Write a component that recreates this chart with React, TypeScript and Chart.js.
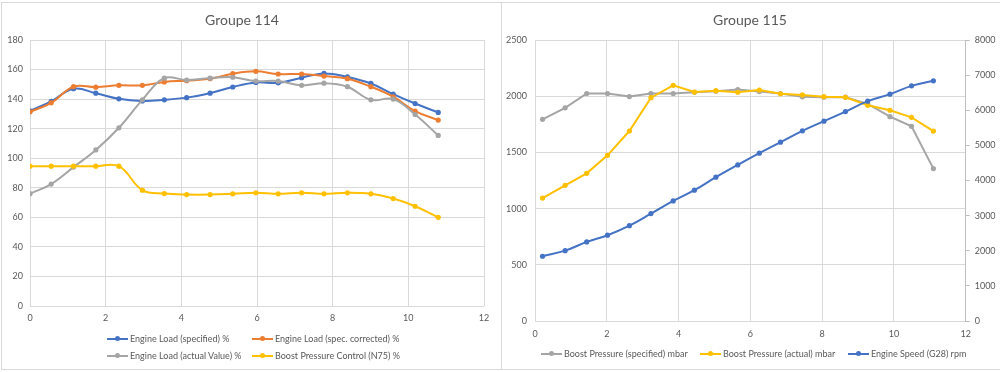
import React, { useEffect, useRef } from "react";
import { Chart, registerables } from "chart.js";

Chart.register(...registerables);

const FONT = "Lato, 'Liberation Sans', sans-serif";
const TEXT = "#595959";
const GRID = "#d9d9d9";
const BLUE = "#4472C4";
const ORANGE = "#ED7D31";
const GRAY = "#A5A5A5";
const YELLOW = "#FFC000";

// ---- Groupe 114 ----
const title114 = "Groupe 114";
const x114 = [0, 0.56, 1.15, 1.74, 2.35, 2.97, 3.55, 4.14, 4.76, 5.36, 5.97, 6.56, 7.18, 7.77, 8.39, 9.01, 9.6, 10.18, 10.79];
const loadSpecified = [132, 138.5, 147, 144, 140.2, 138.8, 139.5, 141, 144, 148.2, 151.3, 151, 154.5, 157.4, 155, 150.6, 143.4, 137, 131];
const loadCorrected = [131.4, 137.5, 148.4, 148.1, 149.3, 149.3, 151.6, 152.5, 153.8, 157.2, 158.8, 157, 157, 155.6, 153.8, 148.4, 141.6, 131.9, 125.8];
const loadActual = [76, 82.5, 94, 105.6, 120.6, 139.5, 154.2, 152.9, 154.2, 154.8, 152.2, 152.2, 149.3, 150.8, 148.4, 139.5, 140, 129.6, 115.4];
const boostControl = [94.6, 94.6, 94.6, 94.6, 94.6, 78.4, 76.1, 75.4, 75.4, 75.9, 76.6, 75.9, 76.6, 75.9, 76.6, 75.9, 72.7, 67.5, 60];
const labels114 = [
  "Engine Load (specified) %",
  "Engine Load (spec. corrected) %",
  "Engine Load (actual Value) %",
  "Boost Pressure Control (N75) %",
];

// ---- Groupe 115 ----
const title115 = "Groupe 115";
const x115 = [0.21, 0.84, 1.44, 2.02, 2.63, 3.23, 3.85, 4.44, 5.04, 5.65, 6.25, 6.84, 7.45, 8.05, 8.65, 9.27, 9.89, 10.49, 11.1];
const boostSpecified = [1794, 1897, 2024, 2024, 1997, 2024, 2024, 2035, 2044, 2059, 2041, 2024, 1994, 1991, 1991, 1932, 1818, 1732, 1356];
const boostActual = [1094, 1207, 1314, 1474, 1690, 1987, 2097, 2037, 2049, 2035, 2055, 2022, 2011, 1996, 1990, 1919, 1875, 1812, 1690];
const engineSpeed = [1843, 2003, 2251, 2442, 2715, 3057, 3419, 3724, 4094, 4444, 4778, 5091, 5413, 5690, 5963, 6259, 6459, 6695, 6838];
const labels115 = [
  "Boost Pressure (specified) mbar",
  "Boost Pressure (actual) mbar",
  "Engine Speed (G28) rpm",
];

function pts(xs: number[], ys: number[]) {
  return xs.map((x, i) => ({ x, y: ys[i] }));
}

function ds(label: string, xs: number[], ys: number[], color: string, tension: number, order: number, yAxisID = "y") {
  return {
    label,
    data: pts(xs, ys),
    borderColor: color,
    backgroundColor: color,
    borderWidth: 2,
    pointRadius: 2.6,
    pointBorderWidth: 0,
    pointBackgroundColor: color,
    showLine: true,
    tension,
    order,
    yAxisID,
  };
}

const tickFont = { family: FONT, size: 9 };
const plain = (v: any) => String(v);

function titleOpts(text: string) {
  return {
    display: true,
    text,
    color: TEXT,
    font: { family: FONT, size: 14, weight: "normal" as const, lineHeight: 1.2 },
    padding: { top: 11.6, bottom: 11.6 },
  };
}

function LegendItem({ x, y, color, text }: { x: number; y: number; color: string; text: string }) {
  return (
    <div style={{ position: "absolute", left: x, top: y - 7, height: 14, display: "flex", alignItems: "center", whiteSpace: "nowrap" }}>
      <div style={{ position: "relative", width: 21, height: 2, background: color }}>
        <div style={{ position: "absolute", left: 8, top: -2, width: 5, height: 5, borderRadius: "50%", background: color }} />
      </div>
      <span style={{ marginLeft: 2, fontFamily: FONT, fontSize: 9, color: TEXT, lineHeight: "14px" }}>{text}</span>
    </div>
  );
}

export default function App() {
  const ref1 = useRef<HTMLCanvasElement>(null);
  const ref2 = useRef<HTMLCanvasElement>(null);

  useEffect(() => {
    const c1 = new Chart(ref1.current as HTMLCanvasElement, {
      type: "scatter",
      data: {
        datasets: [
          ds(labels114[0], x114, loadSpecified, BLUE, 0.4, 0),
          ds(labels114[1], x114, loadCorrected, ORANGE, 0.4, -1),
          ds(labels114[2], x114, loadActual, GRAY, 0.4, -2),
          ds(labels114[3], x114, boostControl, YELLOW, 0.4, -3),
        ] as any,
      },
      options: {
        responsive: false,
        animation: false,
        devicePixelRatio: 1,
        layout: { padding: { left: 0, right: 16, top: 0, bottom: 0 } },
        plugins: {
          legend: { display: false },
          tooltip: { enabled: false },
          title: titleOpts(title114),
        },
        scales: {
          x: {
            type: "linear",
            min: 0,
            max: 12,
            ticks: { stepSize: 2, color: TEXT, font: tickFont, padding: 7, callback: plain },
            grid: { color: GRID, drawTicks: false },
            border: { display: false },
            afterFit: (s: any) => { s.height = 66; },
          },
          y: {
            type: "linear",
            min: 0,
            max: 180,
            ticks: { stepSize: 20, color: TEXT, font: tickFont, padding: 7, callback: plain },
            grid: { color: GRID, drawTicks: false },
            border: { display: false },
            afterFit: (s: any) => { s.width = 30; },
          },
        },
      } as any,
    });

    const c2 = new Chart(ref2.current as HTMLCanvasElement, {
      type: "scatter",
      data: {
        datasets: [
          ds(labels115[0], x115, boostSpecified, GRAY, 0, 0, "y"),
          ds(labels115[1], x115, boostActual, YELLOW, 0, -1, "y"),
          ds(labels115[2], x115, engineSpeed, BLUE, 0.4, -2, "y1"),
        ] as any,
      },
      options: {
        responsive: false,
        animation: false,
        devicePixelRatio: 1,
        layout: { padding: { left: 0, right: 0, top: 0, bottom: 0 } },
        plugins: {
          legend: { display: false },
          tooltip: { enabled: false },
          title: titleOpts(title115),
        },
        scales: {
          x: {
            type: "linear",
            min: 0,
            max: 12,
            ticks: { stepSize: 2, color: TEXT, font: tickFont, padding: 8, callback: plain },
            grid: { color: GRID, drawTicks: false },
            border: { display: false },
            afterFit: (s: any) => { s.height = 51; },
          },
          y: {
            type: "linear",
            position: "left",
            min: 0,
            max: 2500,
            ticks: { stepSize: 500, color: TEXT, font: tickFont, padding: 8, callback: plain },
            grid: { color: GRID, drawTicks: false },
            border: { display: false },
            afterFit: (s: any) => { s.width = 35; },
          },
          y1: {
            type: "linear",
            position: "right",
            min: 0,
            max: 8000,
            ticks: { stepSize: 1000, color: TEXT, font: tickFont, padding: 5, callback: plain },
            grid: { drawOnChartArea: false, drawTicks: true, tickLength: 4, color: "#bfbfbf" },
            border: { display: true, color: "#bfbfbf" },
            afterFit: (s: any) => { s.width = 34.3; },
          },
        },
      } as any,
    });

    return () => {
      c1.destroy();
      c2.destroy();
    };
  }, []);

  return (
    <div style={{ position: "absolute", left: 0, top: 0, width: 1000, height: 372, background: "#fff", overflow: "hidden" }}>
      <div style={{ position: "absolute", left: 1, top: 2, width: 501, height: 368, border: "1px solid #d9d9d9", boxSizing: "border-box" }} />
      <div style={{ position: "absolute", left: 501, top: 2, width: 500, height: 368, border: "1px solid #d9d9d9", boxSizing: "border-box" }} />
      <canvas ref={ref1} width={500} height={372} style={{ position: "absolute", left: 0, top: 0, width: 500, height: 372 }} />
      <canvas ref={ref2} width={500} height={372} style={{ position: "absolute", left: 500, top: 0, width: 500, height: 372 }} />
      <LegendItem x={107} y={339} color={BLUE} text={labels114[0]} />
      <LegendItem x={252} y={339} color={ORANGE} text={labels114[1]} />
      <LegendItem x={107} y={356} color={GRAY} text={labels114[2]} />
      <LegendItem x={252} y={356} color={YELLOW} text={labels114[3]} />
      <LegendItem x={541} y={354} color={GRAY} text={labels115[0]} />
      <LegendItem x={700} y={354} color={YELLOW} text={labels115[1]} />
      <LegendItem x={848} y={354} color={BLUE} text={labels115[2]} />
    </div>
  );
}
